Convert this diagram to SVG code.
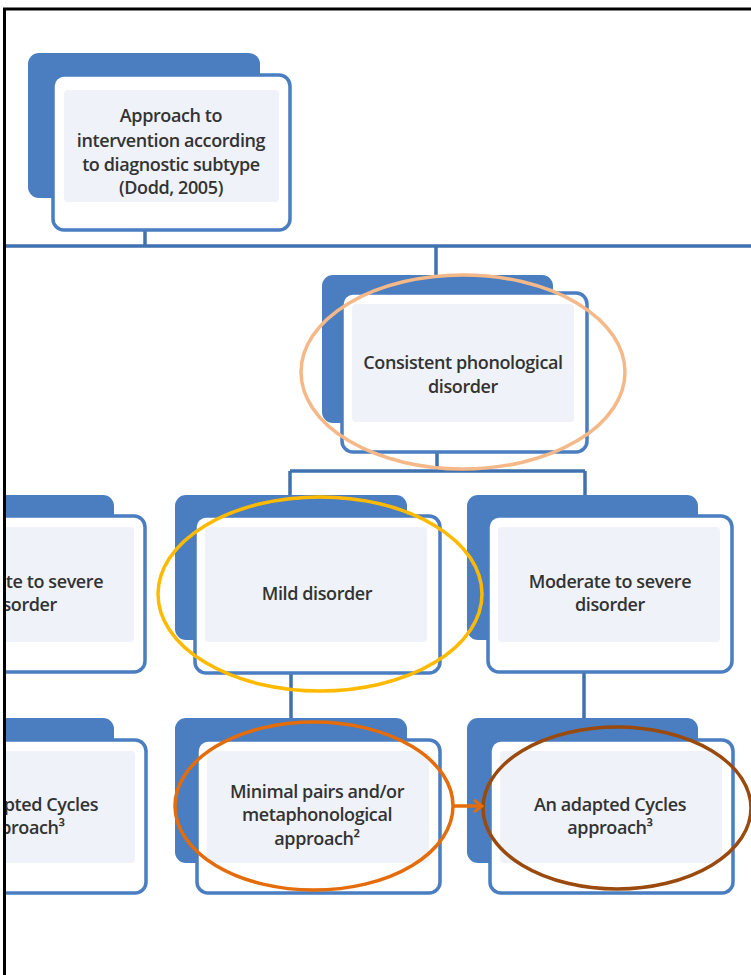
<svg xmlns="http://www.w3.org/2000/svg" width="751" height="975" viewBox="0 0 751 975">
<style>
.back{fill:#4A7EC0;}
.front{fill:#FFFFFF;stroke:#4A7EC0;stroke-width:3.5;}
.inner{fill:#EFF2F8;}
.conn{stroke:#3F71B0;stroke-width:3.5;fill:none;}
.lbl{font-family:"Open Sans","Liberation Sans",sans-serif;font-size:18px;font-weight:600;fill:#333333;text-anchor:middle;letter-spacing:-0.4px;}
.ell{fill:none;stroke-width:3.5;}
</style>
<defs>
<clipPath id="c"><rect x="5" y="0" width="746" height="975"/></clipPath>
<marker id="ah" markerWidth="12" markerHeight="14" refX="10" refY="7" orient="auto" markerUnits="userSpaceOnUse">
<path d="M2,1 L10,7 L2,13" fill="none" stroke="#E46C0A" stroke-width="3"/>
</marker>
</defs>
<rect x="0" y="0" width="751" height="975" fill="#FFFFFF"/>
<g clip-path="url(#c)">
<g id="connectors">
<line class="conn" x1="145" y1="230" x2="145" y2="246"/>
<line class="conn" x1="5" y1="246" x2="751" y2="246"/>
<line class="conn" x1="436" y1="246" x2="436" y2="276"/>
<line class="conn" x1="437" y1="452" x2="437" y2="471"/>
<line class="conn" x1="290" y1="471" x2="585" y2="471"/>
<line class="conn" x1="290" y1="471" x2="290" y2="496"/>
<line class="conn" x1="585" y1="471" x2="585" y2="496"/>
<line class="conn" x1="291" y1="673" x2="291" y2="718"/>
<line class="conn" x1="584" y1="672" x2="584" y2="718"/>
</g>
<g id="n-top">
<rect class="back" x="28" y="53" width="232" height="145" rx="11"/>
<rect class="front" x="53" y="75" width="237" height="155" rx="11"/>
<rect class="inner" x="64" y="90" width="215" height="112" rx="4"/>
<text class="lbl"><tspan x="171" y="122">Approach to</tspan><tspan x="171" y="147">intervention according</tspan><tspan x="171" y="171">to diagnostic subtype</tspan><tspan x="171" y="194">(Dodd, 2005)</tspan></text>
</g>
<g id="n-consistent">
<rect class="back" x="322" y="275" width="231" height="148" rx="11"/>
<rect class="front" x="342" y="293" width="245" height="159" rx="11"/>
<rect class="inner" x="352" y="304" width="222" height="118" rx="4"/>
<text class="lbl"><tspan x="463" y="369">Consistent phonological</tspan><tspan x="463" y="393">disorder</tspan></text>
</g>
<g id="n-left-mid">
<rect class="back" x="-118" y="495" width="232" height="145" rx="11"/>
<rect class="front" x="-98" y="516" width="243" height="156" rx="11"/>
<rect class="inner" x="-88" y="527" width="222" height="115" rx="4"/>
<text class="lbl"><tspan x="22" y="588">Moderate to severe</tspan><tspan x="22" y="611">disorder</tspan></text>
</g>
<g id="n-mild">
<rect class="back" x="175" y="495" width="232" height="145" rx="11"/>
<rect class="front" x="195" y="516" width="245" height="157" rx="11"/>
<rect class="inner" x="205" y="527" width="222" height="115" rx="4"/>
<text class="lbl"><tspan x="317" y="600">Mild disorder</tspan></text>
</g>
<g id="n-moderate">
<rect class="back" x="467" y="495" width="231" height="145" rx="11"/>
<rect class="front" x="488" y="516" width="244" height="156" rx="11"/>
<rect class="inner" x="498" y="527" width="222" height="115" rx="4"/>
<text class="lbl"><tspan x="610" y="588">Moderate to severe</tspan><tspan x="610" y="611">disorder</tspan></text>
</g>
<g id="n-left-bottom">
<rect class="back" x="-118" y="718" width="232" height="145" rx="11"/>
<rect class="front" x="-97" y="740" width="243" height="153" rx="11"/>
<rect class="inner" x="-87" y="751" width="222" height="112" rx="4"/>
<text class="lbl"><tspan x="22" y="811">An adapted Cycles</tspan><tspan x="22" y="834">approach³</tspan></text>
</g>
<g id="n-minimal">
<rect class="back" x="175" y="718" width="232" height="145" rx="11"/>
<rect class="front" x="197" y="740" width="243" height="153" rx="11"/>
<rect class="inner" x="207" y="751" width="222" height="112" rx="4"/>
<text class="lbl"><tspan x="317" y="798">Minimal pairs and/or</tspan><tspan x="317" y="821">metaphonological</tspan><tspan x="317" y="845">approach²</tspan></text>
</g>
<g id="n-cycles">
<rect class="back" x="467" y="718" width="231" height="145" rx="11"/>
<rect class="front" x="490" y="740" width="243" height="153" rx="11"/>
<rect class="inner" x="500" y="751" width="222" height="112" rx="4"/>
<text class="lbl"><tspan x="610" y="811">An adapted Cycles</tspan><tspan x="610" y="834">approach³</tspan></text>
</g>
<g id="highlights">
<ellipse class="ell" cx="463" cy="372" rx="162" ry="97" stroke="#F5B888"/>
<ellipse class="ell" cx="320" cy="594" rx="162" ry="97" stroke="#FFBA00"/>
<ellipse class="ell" cx="314" cy="806" rx="139" ry="84" stroke="#E46C0A"/>
<ellipse class="ell" cx="617" cy="808" rx="134" ry="81" stroke="#9A4A0C"/>
<line x1="452" y1="806" x2="482" y2="806" stroke="#E46C0A" stroke-width="3.5" marker-end="url(#ah)"/>
</g>
</g>
<g id="frame">
<line x1="3" y1="9" x2="751" y2="9" stroke="#000" stroke-width="3"/>
<line x1="4.5" y1="8" x2="4.5" y2="975" stroke="#000" stroke-width="3"/>
</g>
</svg>
